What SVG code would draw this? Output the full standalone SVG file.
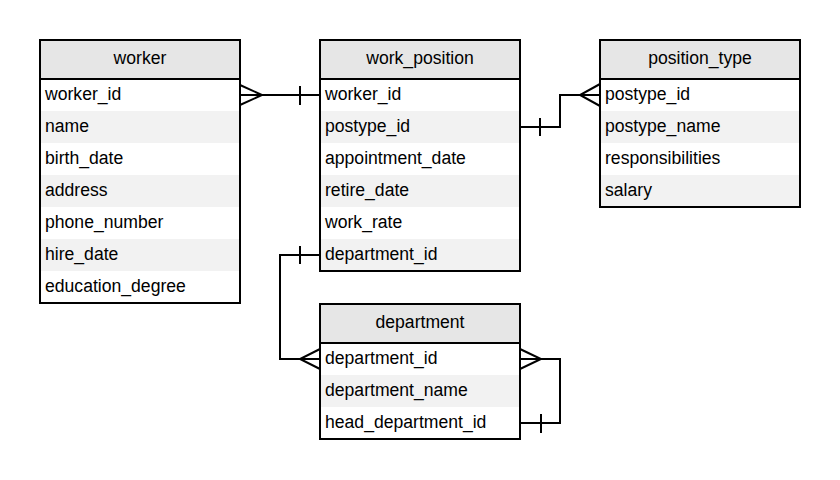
<svg xmlns="http://www.w3.org/2000/svg" width="840" height="480" viewBox="0 0 840 480">
<style>
.hd{fill:#e6e6e6}
.g{fill:#f2f2f2}
.bd{fill:none;stroke:#000;stroke-width:2}
.t{font-family:"Liberation Sans",Arial,sans-serif;font-size:17.6px;fill:#000}
.h{text-anchor:middle}
.c{fill:none;stroke:#000;stroke-width:2}
</style>
<rect width="840" height="480" fill="#fff"/>
<g id="worker">
<rect x="40" y="40" width="200" height="39" class="hd"/>
<rect x="40" y="111" width="200" height="32" class="g"/>
<rect x="40" y="175" width="200" height="32" class="g"/>
<rect x="40" y="239" width="200" height="32" class="g"/>
<rect x="40" y="40" width="200" height="263" class="bd"/>
<line x1="40" y1="79" x2="240" y2="79" class="bd"/>
<text x="140" y="64" class="t h">worker</text>
<text x="45" y="100" class="t">worker_id</text>
<text x="45" y="132" class="t">name</text>
<text x="45" y="164" class="t">birth_date</text>
<text x="45" y="196" class="t">address</text>
<text x="45" y="228" class="t">phone_number</text>
<text x="45" y="260" class="t">hire_date</text>
<text x="45" y="292" class="t">education_degree</text>
</g>
<g id="work_position">
<rect x="320" y="40" width="200" height="39" class="hd"/>
<rect x="320" y="111" width="200" height="32" class="g"/>
<rect x="320" y="175" width="200" height="32" class="g"/>
<rect x="320" y="239" width="200" height="32" class="g"/>
<rect x="320" y="40" width="200" height="231" class="bd"/>
<line x1="320" y1="79" x2="520" y2="79" class="bd"/>
<text x="420" y="64" class="t h">work_position</text>
<text x="325" y="100" class="t">worker_id</text>
<text x="325" y="132" class="t">postype_id</text>
<text x="325" y="164" class="t">appointment_date</text>
<text x="325" y="196" class="t">retire_date</text>
<text x="325" y="228" class="t">work_rate</text>
<text x="325" y="260" class="t">department_id</text>
</g>
<g id="position_type">
<rect x="600" y="40" width="200" height="39" class="hd"/>
<rect x="600" y="111" width="200" height="32" class="g"/>
<rect x="600" y="175" width="200" height="32" class="g"/>
<rect x="600" y="40" width="200" height="167" class="bd"/>
<line x1="600" y1="79" x2="800" y2="79" class="bd"/>
<text x="700" y="64" class="t h">position_type</text>
<text x="605" y="100" class="t">postype_id</text>
<text x="605" y="132" class="t">postype_name</text>
<text x="605" y="164" class="t">responsibilities</text>
<text x="605" y="196" class="t">salary</text>
</g>
<g id="department">
<rect x="320" y="304" width="200" height="39" class="hd"/>
<rect x="320" y="375" width="200" height="32" class="g"/>
<rect x="320" y="304" width="200" height="135" class="bd"/>
<line x1="320" y1="343" x2="520" y2="343" class="bd"/>
<text x="420" y="328" class="t h">department</text>
<text x="325" y="364" class="t">department_id</text>
<text x="325" y="396" class="t">department_name</text>
<text x="325" y="428" class="t">head_department_id</text>
</g>
<g id="connectors">
<path d="M240 95H320M240 85L262 95L240 105M300 86V105" class="c"/>
<path d="M520 127H560V95H600M600 84L580 95L600 106M540 118V136" class="c"/>
<path d="M320 255H280V359H320M300 246V264M320 349L300 359L320 369" class="c"/>
<path d="M520 359H560V423H520M520 349L541 359L520 369M541 414V433" class="c"/>
</g>
</svg>
